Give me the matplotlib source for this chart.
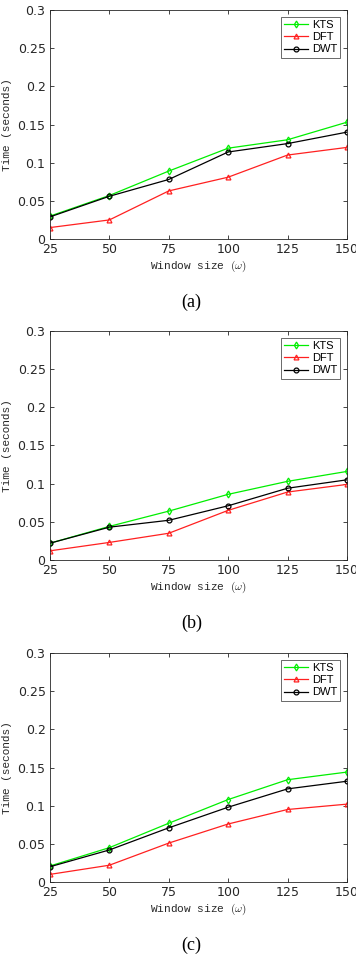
import numpy as np
import matplotlib.pyplot as plt
from matplotlib.ticker import FuncFormatter

plt.rcParams['mathtext.fontset'] = 'cm'

# データ (ウィンドウサイズ別の処理時間)
window_sizes = [25, 50, 75, 100, 125, 150]

kts_a = [0.030, 0.057, 0.089, 0.119, 0.130, 0.153]
dft_a = [0.015, 0.025, 0.063, 0.081, 0.110, 0.120]
dwt_a = [0.029, 0.056, 0.078, 0.114, 0.125, 0.140]

kts_b = [0.022, 0.044, 0.064, 0.086, 0.103, 0.116]
dft_b = [0.012, 0.023, 0.035, 0.065, 0.089, 0.099]
dwt_b = [0.022, 0.043, 0.052, 0.071, 0.094, 0.105]

kts_c = [0.021, 0.045, 0.077, 0.108, 0.134, 0.144]
dft_c = [0.010, 0.022, 0.051, 0.076, 0.095, 0.102]
dwt_c = [0.020, 0.042, 0.071, 0.098, 0.122, 0.132]

captions = ['(a)', '(b)', '(c)']
yticks = [0, 0.05, 0.1, 0.15, 0.2, 0.25, 0.3]


def fmt_tick(v, pos):
    s = ('%g' % round(v, 3))
    return r'$\mathdefault{' + s + '}$'


fig = plt.figure(figsize=(3.56, 9.63), dpi=100)

# 各パネルの位置 [left, bottom, width, height]
positions = [
    [0.1404, 0.7518, 0.834, 0.2378],
    [0.1404, 0.4185, 0.834, 0.2378],
    [0.1404, 0.0841, 0.834, 0.2378],
]
caption_y = [1 - 302 / 963, 1 - 623 / 963, 1 - 945 / 963]

panels = [(kts_a, dft_a, dwt_a), (kts_b, dft_b, dwt_b), (kts_c, dft_c, dwt_c)]

for i, (kts, dft, dwt) in enumerate(panels):
    ax = fig.add_axes(positions[i])
    ax.plot(window_sizes, kts, '-d', color='#00ee00', lw=0.9, ms=3.5,
            mfc='none', mew=0.9, label='KTS')
    ax.plot(window_sizes, dft, '-^', color='#ff2020', lw=0.9, ms=3.5,
            mfc='none', mew=0.9, label='DFT')
    ax.plot(window_sizes, dwt, '-o', color='black', lw=0.9, ms=3.5,
            mfc='none', mew=0.9, label='DWT')

    ax.set_xlim(25, 150)
    ax.set_ylim(0, 0.3)
    ax.set_xticks(window_sizes)
    ax.set_yticks(yticks)
    ax.xaxis.set_major_formatter(FuncFormatter(fmt_tick))
    ax.yaxis.set_major_formatter(FuncFormatter(fmt_tick))
    ax.tick_params(direction='in', top=True, right=True, length=3,
                   width=0.6, labelsize=9, colors='#262626', pad=3)
    for sp in ax.spines.values():
        sp.set_linewidth(0.6)
        sp.set_color('#262626')

    ax.set_xlabel(r'Window size $(\omega)$', family='Liberation Mono',
                  fontsize=8, color='#262626', labelpad=2)
    ax.set_ylabel('Time (seconds)', family='Liberation Mono',
                  fontsize=8, color='#262626', labelpad=4)

    leg = ax.legend(loc='upper right', prop={'family': 'Liberation Sans', 'size': 8},
                    frameon=True, fancybox=False, handlelength=2.2,
                    handletextpad=0.3, borderpad=0.3, labelspacing=0.2,
                    borderaxespad=0.6)
    leg.get_frame().set_edgecolor('#262626')
    leg.get_frame().set_linewidth(0.6)

    fig.text(0.538, caption_y[i], captions[i], family='Liberation Serif',
             fontsize=13, ha='center', va='center')

fig.savefig('out.png', dpi=100)
